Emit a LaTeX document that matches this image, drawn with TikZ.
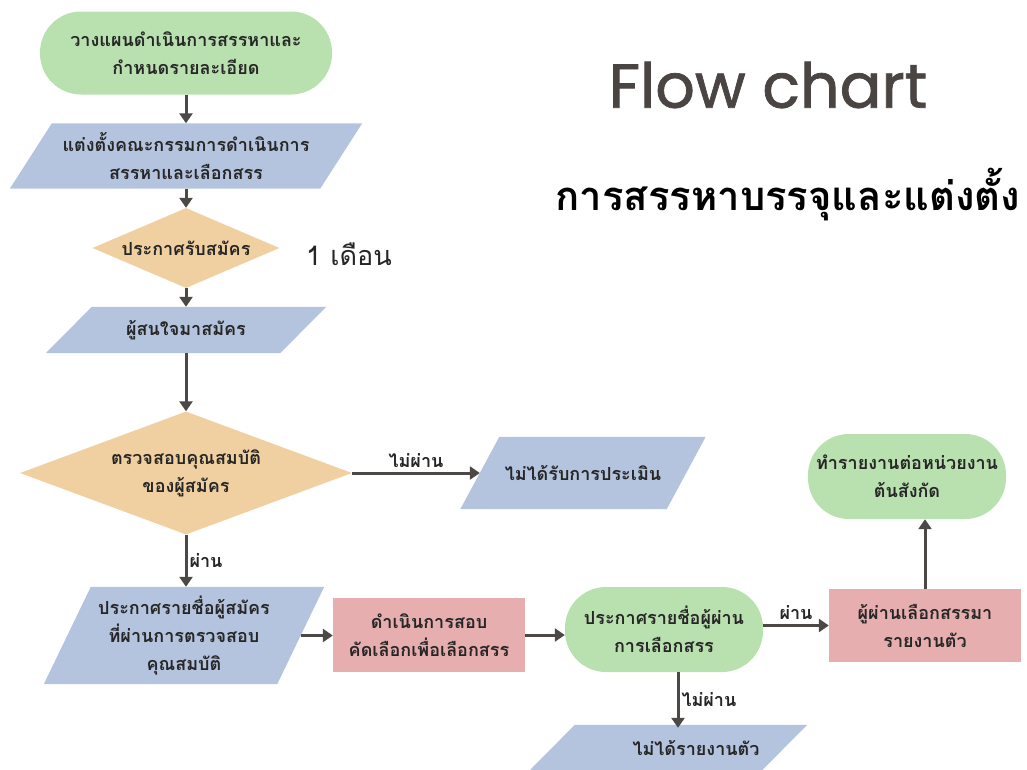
\documentclass[tikz,border=0pt]{standalone}
\usepackage{fontspec}
\newfontfamily\thai[Script=Thai]{Loma}
\newfontfamily\pop[FakeBold=1.2]{Poppins}
\usetikzlibrary{shapes.geometric,arrows.meta,backgrounds,calc}
\definecolor{cgreen}{RGB}{185,224,175}
\definecolor{cblue}{RGB}{180,196,222}
\definecolor{corange}{RGB}{240,208,160}
\definecolor{cred}{RGB}{230,174,174}
\definecolor{carrow}{RGB}{75,72,70}
\definecolor{ctitle}{RGB}{74,69,67}
\newcommand\parafill[2]{\fill[cblue] ($(#1.north west)+(#2/2,0)$) -- ($(#1.north east)+(#2/2,0)$) -- ($(#1.south east)-(#2/2,0)$) -- ($(#1.south west)-(#2/2,0)$) -- cycle;}
\newcommand\lbltext[1]{{\thai\bfseries\fontsize{18}{20}\selectfont #1}}
\tikzset{
  box/.style={font=\thai\bfseries\fontsize{18}{28}\selectfont, align=center, text=black!85, inner sep=0pt},
  term/.style={box, rectangle, fill=cgreen, rounded corners=41pt},
  procbox/.style={box, rectangle, fill=cred},
  decision/.style={box, diamond, fill=corange},
  parabox/.style={box, rectangle},
  arr/.style={draw=carrow, line width=3pt, -{Triangle[length=10pt,width=13pt]}},
  lbl/.style={text=black!85, inner sep=2pt},
}
\begin{document}
\begin{tikzpicture}[x=1pt,y=-1pt]
\useasboundingbox (0,0) rectangle (1027,769);
\clip (0,0) rectangle (1027,769);

% title
\node[font=\pop\fontsize{62}{64}\selectfont, text=ctitle, inner sep=0] (title) at (768,85) {Flow chart};
\node[font=\thai\bfseries\fontsize{40}{44}\selectfont, text=black, inner sep=0] (subtitle) at (788,195) {การสรรหาบรรจุและแต่งตั้ง};
\node[font=\thai\fontsize{27}{30}\selectfont, text=black!85, inner sep=0] (month) at (349,254) {1 เดือน};

% nodes
\node[term, minimum width=292pt, minimum height=83pt] (n1) at (186,53) {วางแผนดำเนินการสรรหาและ\\กำหนดรายละเอียด};
\node[parabox, minimum width=310pt, minimum height=65pt] (n2) at (186,156) {แต่งตั้งคณะกรรมการดำเนินการ\\สรรหาและเลือกสรร};
\node[decision, minimum width=187pt, minimum height=80pt, aspect=2.3] (n3) at (186,248) {ประกาศรับสมัคร};
\node[parabox, minimum width=234pt, minimum height=46pt] (n4) at (186,330) {ผู้สนใจมาสมัคร};
\node[decision, minimum width=332pt, minimum height=123pt, aspect=2.7] (n5) at (186,473) {ตรวจสอบคุณสมบัติ\\ของผู้สมัคร};
\node[parabox, minimum width=206pt, minimum height=72pt] (n6) at (583,473) {ไม่ได้รับการประเมิน};
\node[parabox, minimum width=233pt, minimum height=97pt] (n7) at (184,635.5) {ประกาศรายชื่อผู้สมัคร\\ที่ผ่านการตรวจสอบ\\คุณสมบัติ};
\node[procbox, minimum width=192pt, minimum height=74pt] (n8) at (429,635) {ดำเนินการสอบ\\คัดเลือกเพื่อเลือกสรร};
\node[term, minimum width=198pt, minimum height=85pt] (n9) at (664,629.5) {ประกาศรายชื่อผู้ผ่าน\\การเลือกสรร};
\node[procbox, minimum width=192pt, minimum height=73pt] (n10) at (925,625.5) {ผู้ผ่านเลือกสรรมา\\รายงานตัว};
\node[term, minimum width=198pt, minimum height=85pt] (n11) at (907,476.5) {ทำรายงานต่อหน่วยงาน\\ต้นสังกัด};
\node[parabox, minimum width=232pt, minimum height=46pt] (n12) at (668,748) {\hspace*{56pt}ไม่ได้รายงานตัว};

\begin{pgfonlayer}{background}
\fill[white] (0,0) rectangle (1027,769);
\parafill{n2}{42}
\parafill{n4}{46}
\parafill{n6}{39}
\parafill{n7}{47}
\parafill{n12}{46}
\end{pgfonlayer}

% connectors
\draw[arr] (n1) -- (n2);
\draw[arr] (n2) -- (n3);
\draw[arr] (n3) -- (n4);
\draw[arr] (n4) -- (n5);
\draw[arr] (n5.east) -- node[lbl, above, yshift=2pt] (l1) {\lbltext{ไม่ผ่าน}} (n6.west);
\draw[arr] (n5.south) -- node[lbl, right, xshift=0pt] (l2) {\lbltext{ผ่าน}} (n5.south |- n7.north);
\draw[arr] (n7.east) -- (n7.east -| n8.west);
\draw[arr] (n8.east) -- (n8.east -| n9.west);
\draw[arr] (n9.east |- n10.west) -- node[lbl, above, yshift=2pt] (l3) {\lbltext{ผ่าน}} (n10.west);
\draw[arr] ([xshift=14pt]n9.south) -- node[lbl, right, xshift=0pt] (l4) {\lbltext{ไม่ผ่าน}} ([xshift=14pt,yshift=-3pt]n9.south |- n12.north);
\draw[arr] (n10.north) -- (n10.north |- n11.south);
\end{tikzpicture}
\end{document}
